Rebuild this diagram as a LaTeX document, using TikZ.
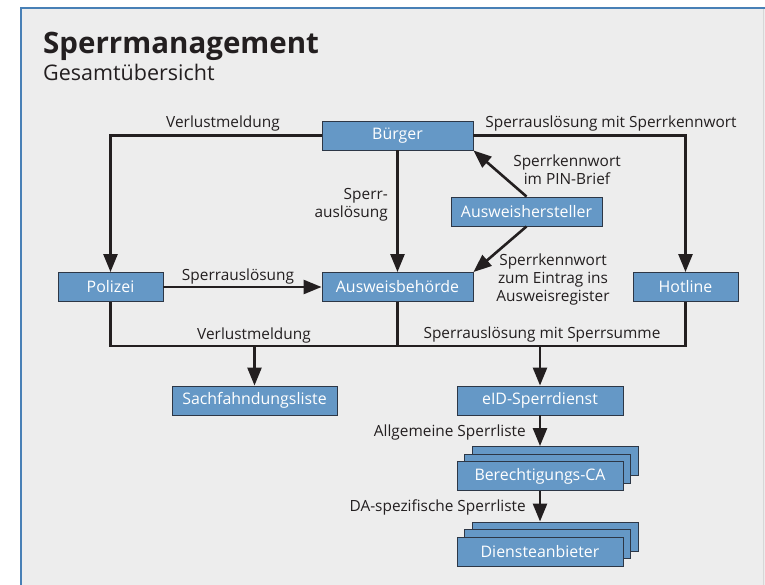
\documentclass[tikz,border=0pt]{standalone}
\usepackage{fontspec}
\setmainfont{Open Sans}
\usetikzlibrary{arrows.meta}
\definecolor{panel}{RGB}{237,237,237}
\definecolor{frame}{RGB}{72,128,182}
\definecolor{boxfill}{RGB}{101,152,198}
\definecolor{boxline}{RGB}{45,55,70}
\definecolor{ink}{RGB}{35,31,32}
\begin{document}
\begin{tikzpicture}[x=1pt,y=-1pt,
  box/.style={draw=boxline, line width=0.9pt, fill=boxfill, text=white,
    minimum height=29pt, inner sep=0pt, font=\fontsize{15.9}{18}\selectfont},
  lbl/.style={text=ink, inner sep=0pt, align=center, font=\fontsize{15.4}{18}\selectfont},
  conn/.style={draw=ink, line width=2.6pt},
  arr/.style={conn, -{Triangle[length=18pt,width=14pt]}},
]
\useasboundingbox (0,0) rectangle (765,585);
% background panel with blue top and left edges
\fill[white] (0,0) rectangle (765,585);
\fill[panel] (21,8) rectangle (765,585);
\draw[line width=0.6pt, draw={rgb,255:red,215;green,215;blue,215}] (763.5,8) -- (763.5,585);
\draw[frame, line width=2pt] (21,585) -- (21,8) -- (765,8);

% heading
\node[anchor=base west, inner sep=0pt, text=ink, font=\fontsize{29.5}{32}\selectfont\bfseries] (title) at (43,54) {Sperrmanagement};
\node[anchor=base west, inner sep=0pt, text=ink, font=\fontsize{21.5}{24}\selectfont] (subtitle) at (43,81) {Gesamtübersicht};

% boxes
\node[box, minimum width=151pt] (buerger) at (397.5,135.5) {Bürger};
\node[box, minimum width=151pt] (hersteller) at (526.5,211.5) {Ausweishersteller};
\node[box, minimum width=105pt] (polizei) at (110.5,287) {Polizei};
\node[box, minimum width=151pt] (behoerde) at (397.5,287) {Ausweisbehörde};
\node[box, minimum width=105pt] (hotline) at (685.5,287) {Hotline};
\node[box, minimum width=165pt] (sachf) at (254.5,400.5) {Sachfahndungsliste};
\node[box, minimum width=166pt] (eid) at (540,400.5) {eID-Sperrdienst};
% stacked boxes
\node[box, minimum width=166pt] (berca3) at (555,461) {};
\node[box, minimum width=166pt] (berca2) at (547.5,468.5) {};
\node[box, minimum width=166pt] (berca) at (540,476) {Berechtigungs-CA};
\node[box, minimum width=166pt] (dienst3) at (555,536.5) {};
\node[box, minimum width=166pt] (dienst2) at (547.5,544) {};
\node[box, minimum width=166pt] (dienst) at (540,551.5) {Diensteanbieter};

% collecting line
\coordinate (bus) at (0,346);

% connectors
\draw[arr] (buerger.west) -| (polizei.north);
\draw[arr] (buerger.east) -| (hotline.north);
\draw[arr] (buerger.south) -- (behoerde.north);
\draw[arr] (hersteller.north) -- (buerger.south east);
\draw[arr] (hersteller.south) -- (behoerde.north east);
\draw[arr] (polizei.east) -- (behoerde.west);
\draw[conn] (polizei.south) |- (hotline.south |- bus) -- (hotline.south);
\draw[conn] (behoerde.south) -- (behoerde.south |- bus);
\draw[arr] (sachf.north |- bus) -- (sachf.north);
\draw[arr] (eid.north |- bus) -- (eid.north);
\draw[arr] (eid.south) -- (eid.south |- berca3.north);
\draw[arr] (berca.south) -- (berca.south |- dienst3.north);

% connector labels
\node[lbl] (l1) at (223,124) {Verlustmeldung};
\node[lbl] (l2) at (611,124) {Sperrauslösung mit Sperrkennwort};
\node[lbl, anchor=east, align=right] (l3) at (388,205) {Sperr-\\auslösung};
\node[lbl] (l4) at (567,170) {Sperrkennwort\\im PIN-Brief};
\node[lbl] (l5) at (553,279) {Sperrkennwort\\zum Eintrag ins\\Ausweisregister};
\node[lbl] (l6) at (238,276) {Sperrauslösung};
\node[lbl] (l7) at (254,335) {Verlustmeldung};
\node[lbl] (l8) at (542,334) {Sperrauslösung mit Sperrsumme};
\node[lbl, anchor=east] (l9) at (526,432) {Allgemeine Sperrliste};
\node[lbl, anchor=east] (l10) at (526,507) {DA-spezifische Sperrliste};
\end{tikzpicture}
\end{document}
